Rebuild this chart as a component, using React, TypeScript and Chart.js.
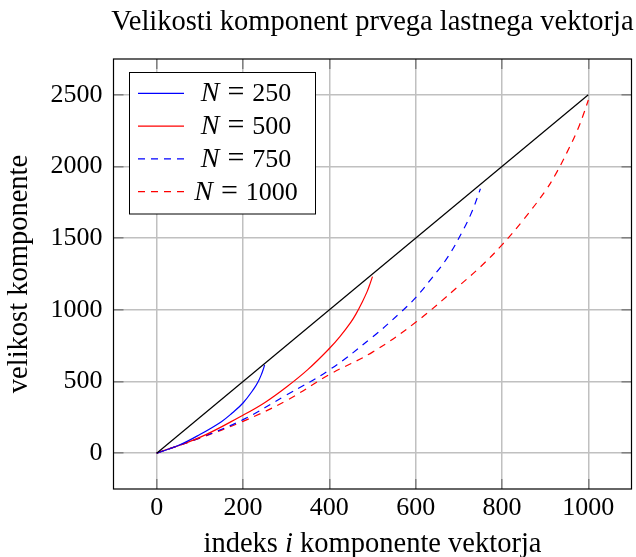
import React, { useEffect, useRef } from 'react';
import { Chart, registerables } from 'chart.js';

Chart.register(...registerables);

const titleText = 'Velikosti komponent prvega lastnega vektorja';
const xLabelParts = ['indeks ', 'i', ' komponente vektorja'];
const yLabelText = 'velikost komponente';

const xTicks = [0, 200, 400, 600, 800, 1000];
const yTicks = [0, 500, 1000, 1500, 2000, 2500];

const boundX = [0, 1000];
const boundY = [0, 2500];

const n250X = [0, 50, 100, 150, 175, 200, 225, 235, 242.5, 247.5, 250];
const n250Y = [0, 53, 130, 220, 280, 350, 448, 498, 548, 590, 615];

const n500X = [0, 100, 200, 250, 300, 350, 400, 425, 450, 462.5, 475, 487.5, 495, 500];
const n500Y = [0, 110, 265, 352, 460, 583, 730, 815, 914, 975, 1047, 1127, 1188, 1232];

const n750X = [0, 100, 200, 300, 400, 500, 562.5, 600, 637.5, 675, 712.5, 731.25, 742.5, 750];
const n750Y = [0, 107, 234, 405, 581, 810, 975, 1085, 1222, 1371, 1571, 1691, 1781, 1845];

const n1000X = [0, 100, 200, 300, 400, 500, 600, 700, 750, 800, 850, 900, 925, 950, 975, 990, 1000];
const n1000Y = [0, 105, 222, 366, 548, 705, 913, 1167, 1300, 1453, 1630, 1828, 1950, 2095, 2255, 2375, 2464];

const legendNums = ['250', '500', '750', '1000'];

const SERIF = '"Liberation Serif", "Times New Roman", serif';

const toPts = (xs: number[], ys: number[]) => xs.map((x, i) => ({ x, y: ys[i] }));

const decorPlugin = {
  id: 'decor',
  afterDraw(chart: any) {
    const { ctx, chartArea: a, scales } = chart;
    const xs = scales.x;
    const ys = scales.y;
    ctx.save();

    // inner ticks on all four sides
    ctx.strokeStyle = '#808080';
    ctx.lineWidth = 1.5;
    const al = (p: number) => Math.round(p - 0.75) + 0.75;
    xTicks.forEach((v) => {
      const p = al(xs.getPixelForValue(v));
      ctx.beginPath();
      ctx.moveTo(p, a.bottom);
      ctx.lineTo(p, a.bottom - 10);
      ctx.moveTo(p, a.top);
      ctx.lineTo(p, a.top + 10);
      ctx.stroke();
    });
    yTicks.forEach((v) => {
      const p = al(ys.getPixelForValue(v));
      ctx.beginPath();
      ctx.moveTo(a.left, p);
      ctx.lineTo(a.left + 10, p);
      ctx.moveTo(a.right, p);
      ctx.lineTo(a.right - 10, p);
      ctx.stroke();
    });

    // frame
    ctx.strokeStyle = '#000';
    ctx.lineWidth = 1.2;
    ctx.strokeRect(a.left, a.top, a.right - a.left, a.bottom - a.top);

    const cx = (a.left + a.right) / 2;
    const cy = (a.top + a.bottom) / 2;
    ctx.fillStyle = '#000';
    ctx.textBaseline = 'alphabetic';

    // title
    ctx.font = `28.5px ${SERIF}`;
    ctx.textAlign = 'center';
    ctx.fillText(titleText, cx, 29.5);

    // x label with italic i
    const fonts = [`28.5px ${SERIF}`, `italic 28.5px ${SERIF}`, `28.5px ${SERIF}`];
    let total = 0;
    const widths = xLabelParts.map((t, i) => {
      ctx.font = fonts[i];
      const w = ctx.measureText(t).width;
      total += w;
      return w;
    });
    ctx.textAlign = 'left';
    let xx = cx - total / 2;
    xLabelParts.forEach((t, i) => {
      ctx.font = fonts[i];
      ctx.fillText(t, xx, 552);
      xx += widths[i];
    });

    // y label
    ctx.save();
    ctx.translate(27, cy);
    ctx.rotate(-Math.PI / 2);
    ctx.font = `28.5px ${SERIF}`;
    ctx.textAlign = 'center';
    ctx.fillText(yLabelText, 0, 0);
    ctx.restore();

    // legend
    const lx = 129.5, ly = 72.5, lw = 186, lh = 141.5;
    ctx.fillStyle = '#fff';
    ctx.fillRect(lx, ly, lw, lh);
    ctx.strokeStyle = '#000';
    ctx.lineWidth = 1;
    ctx.strokeRect(lx, ly, lw, lh);
    const legendSets = chart.data.datasets.filter((d: any) => d.inLegend);
    legendSets.forEach((d: any, i: number) => {
      const rowY = 93.3 + i * 32.8;
      ctx.save();
      ctx.strokeStyle = d.borderColor;
      ctx.lineWidth = d.borderWidth;
      ctx.setLineDash(d.borderDash || []);
      ctx.beginPath();
      ctx.moveTo(138, rowY);
      ctx.lineTo(184, rowY);
      ctx.stroke();
      ctx.restore();

      const parts = ['N', '=', legendNums[i]];
      const pf = [`italic 28px ${SERIF}`, `30px ${SERIF}`, `26px ${SERIF}`];
      const gap = 8;
      const ws = parts.map((t, k) => {
        ctx.font = pf[k];
        return ctx.measureText(t).width;
      });
      const tw = ws[0] + ws[1] + ws[2] + gap * 2;
      let tx = 246 - tw / 2;
      ctx.fillStyle = '#000';
      ctx.textAlign = 'left';
      parts.forEach((t, k) => {
        ctx.font = pf[k];
        ctx.fillText(t, tx, rowY + 8);
        tx += ws[k] + gap;
      });
    });

    ctx.restore();
  },
};

const lineStyle = {
  borderWidth: 1.2,
  pointRadius: 0,
  tension: 0.4,
};

export default function App() {
  const ref = useRef<HTMLCanvasElement | null>(null);

  useEffect(() => {
    if (!ref.current) return;
    const chart = new Chart(ref.current, {
      type: 'line',
      data: {
        datasets: [
          {
            label: 'bound',
            data: toPts(boundX, boundY),
            borderColor: '#000000',
            borderWidth: 1.2,
            pointRadius: 0,
            inLegend: false,
          } as any,
          {
            label: 'N = 250',
            data: toPts(n250X, n250Y),
            borderColor: '#0000ff',
            ...lineStyle,
            inLegend: true,
          },
          {
            label: 'N = 500',
            data: toPts(n500X, n500Y),
            borderColor: '#ff0000',
            ...lineStyle,
            inLegend: true,
          },
          {
            label: 'N = 750',
            data: toPts(n750X, n750Y),
            borderColor: '#0000ff',
            borderDash: [7, 6],
            ...lineStyle,
            inLegend: true,
          },
          {
            label: 'N = 1000',
            data: toPts(n1000X, n1000Y),
            borderColor: '#ff0000',
            borderDash: [7, 6],
            ...lineStyle,
            inLegend: true,
          },
        ],
      },
      options: {
        animation: false,
        responsive: false,
        devicePixelRatio: 1,
        layout: { padding: { top: 59, right: 4.5, bottom: 0, left: 0 } },
        plugins: {
          legend: { display: false },
          title: { display: false },
          tooltip: { enabled: false },
        },
        scales: {
          x: {
            type: 'linear',
            min: -100,
            max: 1100,
            afterBuildTicks: (s: any) => {
              s.ticks = xTicks.map((v) => ({ value: v }));
            },
            afterFit: (s: any) => {
              s.height = 68;
            },
            grid: { color: '#c0c0c0', lineWidth: 1.5, drawTicks: false },
            border: { display: false },
            ticks: {
              padding: 4,
              color: '#000',
              font: { family: SERIF, size: 26 },
              maxRotation: 0,
              callback: (v: any) => String(v),
            },
          },
          y: {
            type: 'linear',
            min: -250,
            max: 2750,
            afterBuildTicks: (s: any) => {
              s.ticks = yTicks.map((v) => ({ value: v }));
            },
            afterFit: (s: any) => {
              s.width = 113.5;
            },
            grid: { color: '#c0c0c0', lineWidth: 1.5, drawTicks: false },
            border: { display: false },
            ticks: {
              padding: 11,
              color: '#000',
              font: { family: SERIF, size: 26 },
              callback: (v: any) => String(v),
            },
          },
        },
      },
      plugins: [decorPlugin],
    });
    return () => chart.destroy();
  }, []);

  return (
    <div style={{ position: 'fixed', left: 0, top: 0, width: 636, height: 557, background: '#fff' }}>
      <canvas ref={ref} width={636} height={557} style={{ display: 'block' }} />
    </div>
  );
}
